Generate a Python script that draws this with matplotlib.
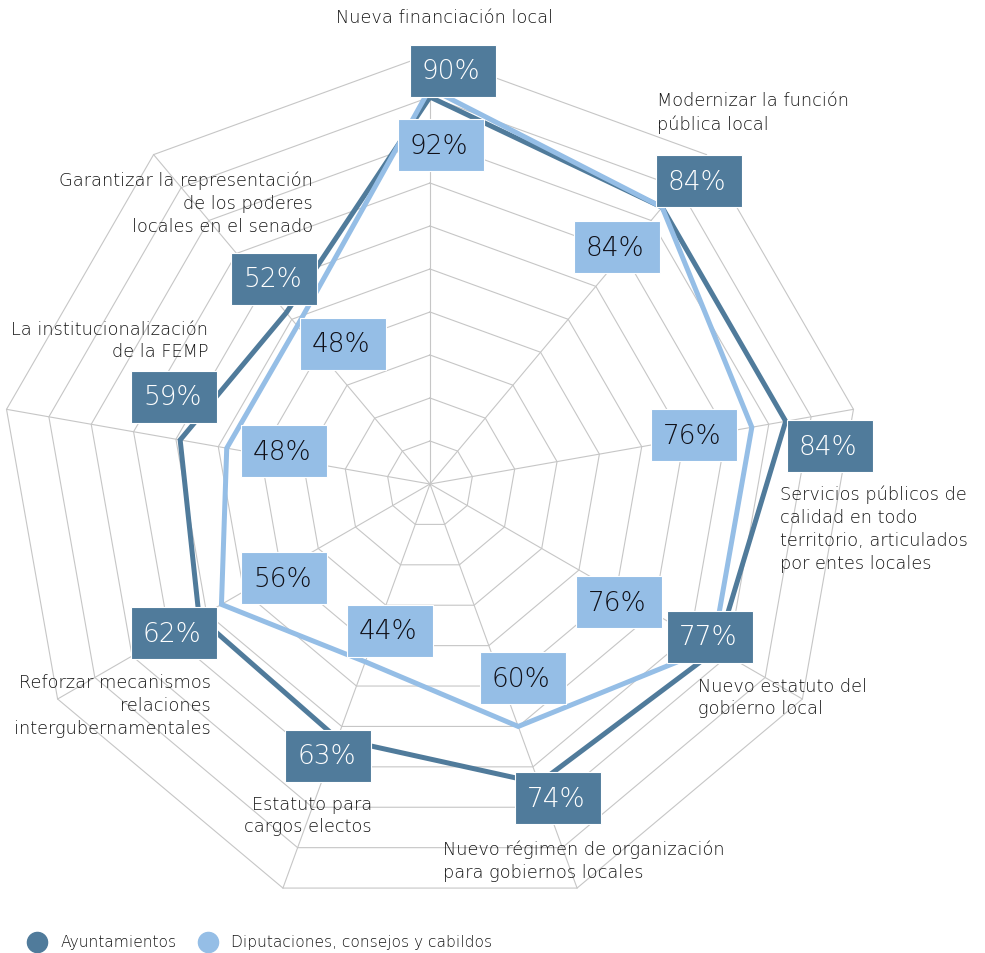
import numpy as np
import matplotlib.pyplot as plt
from matplotlib.patches import Rectangle

plt.rcParams['font.family'] = ['DejaVu Sans']

categorias = [
    "Nueva financiación local",
    "Modernizar la función\npública local",
    "Servicios públicos de\ncalidad en todo\nterritorio, articulados\npor entes locales",
    "Nuevo estatuto del\ngobierno local",
    "Nuevo régimen de organización\npara gobiernos locales",
    "Estatuto para\ncargos electos",
    "Reforzar mecanismos\nrelaciones\nintergubernamentales",
    "La institucionalización\nde la FEMP",
    "Garantizar la representación\nde los poderes\nlocales en el senado",
]
ayuntamientos = [90, 84, 84, 77, 74, 63, 62, 59, 52]
diputaciones = [92, 84, 76, 76, 60, 44, 56, 48, 48]
series = ["Ayuntamientos", "Diputaciones, consejos y cabildos"]

DARK = '#507b9b'
LIGHT = '#95bee6'
GRID = '#c6c6c6'
TXT = '#141414'

# pixel layout
W, H = 985, 954
CX, CY = 430, 485
S = 4.3  # px por punto porcentual

def px(x, y):
    return (x - CX) / S, (CY - y) / S

fig = plt.figure(figsize=(W / 100, H / 100), dpi=100)
ax = fig.add_axes([0, 0, 1, 1])
ax.set_xlim(-CX / S, (W - CX) / S)
ax.set_ylim(-(H - CY) / S, CY / S)
ax.axis('off')

n = len(categorias)
ang = np.deg2rad(90 - 360 / n * np.arange(n))
ca, sa = np.cos(ang), np.sin(ang)

# rejilla
for r in range(10, 101, 10):
    ax.plot(np.append(r * ca, r * ca[0]), np.append(r * sa, r * sa[0]),
            color=GRID, lw=0.8, zorder=1)
for c, s in zip(ca, sa):
    ax.plot([0, 100 * c], [0, 100 * s], color=GRID, lw=0.8, zorder=1)

# series
for vals, col in [(ayuntamientos, DARK), (diputaciones, LIGHT)]:
    v = np.array(vals, dtype=float)
    ax.plot(np.append(v * ca, v[0] * ca[0]), np.append(v * sa, v[0] * sa[0]),
            color=col, lw=3.6, solid_joinstyle='miter', zorder=2)

# etiquetas de valor (desplazamiento en px respecto al punto)
off_ayto = [(23, -26), (37, -26), (44, 25), (-7, -13), (19, 15),
            (-9, 17), (-25, 16), (-6, -43), (-12, -34)]
off_dip = [(11, 57), (-45, 40), (-58, 8), (-94, -45), (5, -48),
           (25, -31), (63, -26), (57, 3), (46, 18)]
BW, BH = 86, 52
for vals, offs, face, tc, z in [(diputaciones, off_dip, LIGHT, '#101018', 3),
                                (ayuntamientos, off_ayto, DARK, 'white', 5)]:
    for v, c, s, (dx, dy) in zip(vals, ca, sa, offs):
        bx = v * c + dx / S
        by = v * s - dy / S
        ax.add_patch(Rectangle((bx - BW / 2 / S, by - BH / 2 / S), BW / S, BH / S,
                               facecolor=face, edgecolor='white', lw=0.8, zorder=z))
        ax.text(bx - 2 / S, by, f"{v}%", ha='center', va='center', color=tc,
                fontsize=19, fontweight='light', zorder=z + 1)

# etiquetas de categoría: (x, y primera línea, alineación)
lab_pos = [(445, 18, 'center'), (657, 101, 'left'), (780, 493, 'left'),
           (698, 686, 'left'), (443, 849, 'left'), (372, 804, 'right'),
           (211, 682, 'right'), (208, 329, 'right'), (313, 180, 'right')]
for txt, (x, y, ha) in zip(categorias, lab_pos):
    nl = txt.count('\n')
    tx, ty = px(x, y + 12 * nl)
    ax.text(tx, ty, txt, ha=ha, va='center', fontsize=12.8, color=TXT,
            linespacing=1.35, multialignment=ha, fontweight='light', zorder=6)

# leyenda
for name, col, (mx, my), (lx, ly) in zip(series, [DARK, LIGHT],
                                         [(37, 943), (208, 943)],
                                         [(61, 943), (231, 943)]):
    ax.plot(*px(mx, my), marker='o', ms=14.5, color=col, mec=col, zorder=6, clip_on=False)
    ax.text(*px(lx, ly), name, ha='left', va='center', fontsize=11.2, color=TXT,
            fontweight='light')

fig.savefig('out.png', dpi=100)
